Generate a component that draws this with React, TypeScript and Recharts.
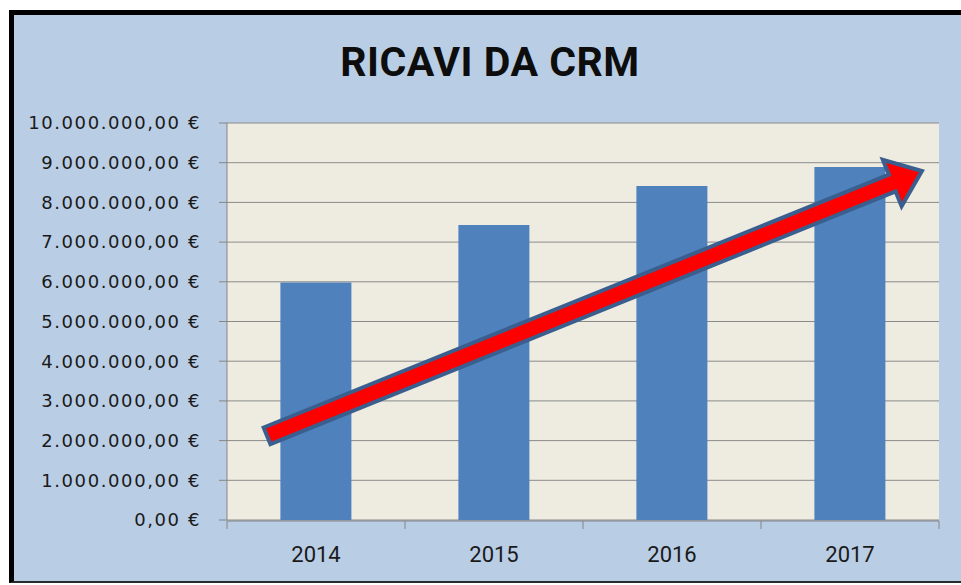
import React from 'react';
import { BarChart, Bar, XAxis, YAxis, CartesianGrid, ReferenceLine } from 'recharts';

const years = ['2014', '2015', '2016', '2017'];
const revenues = [5980000, 7430000, 8410000, 8890000];
const bandPos = [0.5, 1.5, 2.5, 3.5];
const yTicks = [0, 1000000, 2000000, 3000000, 4000000, 5000000, 6000000, 7000000, 8000000, 9000000, 10000000];
const bandTicks = [0, 1, 2, 3, 4];
const arrowStart = { x: 0.225, y: 2120000 };
const arrowEnd = { x: 3.904, y: 8790000 };
const title = 'RICAVI DA CRM';

const data = years.map((year, i) => ({ year, pos: bandPos[i], value: revenues[i] }));

const fmt = (v: number) =>
  Math.round(v).toString().replace(/\B(?=(\d{3})+(?!\d))/g, '.') + ',00 €';

const EmptyTick = () => <g />;

const ArrowShape = (props: any) => {
  const { x1, y1, x2, y2 } = props;
  if ([x1, y1, x2, y2].some((v) => typeof v !== 'number' || isNaN(v))) return <g />;
  const dx = x2 - x1;
  const dy = y2 - y1;
  const L = Math.sqrt(dx * dx + dy * dy);
  const ux = dx / L;
  const uy = dy / L;
  const nx = -uy;
  const ny = ux;
  const sw = 9;
  const hw = 25;
  const hl = 32;
  const bx = x2 - ux * hl;
  const by = y2 - uy * hl;
  const pts = [
    [x1 + nx * sw, y1 + ny * sw],
    [bx + nx * sw, by + ny * sw],
    [bx + nx * hw, by + ny * hw],
    [x2, y2],
    [bx - nx * hw, by - ny * hw],
    [bx - nx * sw, by - ny * sw],
    [x1 - nx * sw, y1 - ny * sw],
  ];
  return (
    <polygon
      points={pts.map((p) => `${p[0]},${p[1]}`).join(' ')}
      fill="#ff0000"
      stroke="#3a5f8f"
      strokeWidth={4}
      strokeLinejoin="miter"
    />
  );
};

export default function App() {
  return (
    <div style={{ position: 'absolute', left: 0, top: 0, width: 961, height: 585, background: '#ffffff', overflow: 'hidden' }}>
      <div
        style={{
          position: 'absolute',
          left: 9,
          top: 10,
          width: 960,
          height: 573,
          boxSizing: 'border-box',
          background: '#b9cde5',
          borderTop: '5px solid #000',
          borderLeft: '5px solid #000',
          borderBottom: '2px solid #2a2a2a',
        }}
      />
      <div
        style={{
          position: 'absolute',
          left: 290,
          width: 400,
          top: 42,
          textAlign: 'center',
          fontFamily: 'Roboto, sans-serif',
          fontWeight: 700,
          fontSize: 41,
          lineHeight: '41px',
          letterSpacing: 0.5,
          color: '#0d0d0d',
        }}
      >
        {title}
      </div>
      <div style={{ position: 'absolute', left: 0, top: 0 }}>
        <BarChart
          width={961}
          height={585}
          data={data}
          margin={{ top: 123, right: 22, bottom: 63, left: 0 }}
          barCategoryGap="30%"
        >
          <CartesianGrid horizontal vertical={false} stroke="#8a8a8a" fill="#eeece1" xAxisId="cat" />
          <XAxis
            xAxisId="num"
            dataKey="pos"
            type="number"
            domain={[0, 4]}
            ticks={bandTicks}
            height={1}
            axisLine={{ stroke: '#868686' }}
            tickLine={{ stroke: '#868686' }}
            tickSize={8}
            tick={EmptyTick}
            allowDataOverflow
          />
          <XAxis
            xAxisId="cat"
            dataKey="year"
            height={1}
            axisLine={false}
            tickLine={false}
            tickSize={0}
            tickMargin={26}
            tick={{ fontFamily: 'Roboto, sans-serif', fontSize: 22, fill: '#1a1a1a' }}
          />
          <YAxis
            width={227}
            domain={[0, 10000000]}
            ticks={yTicks}
            interval={0}
            tickFormatter={fmt}
            axisLine={{ stroke: '#868686' }}
            tickLine={{ stroke: '#868686' }}
            tickSize={8}
            tickMargin={18}
            tick={{ fontFamily: 'DejaVu Sans, sans-serif', fontSize: 18, fill: '#1a1a1a', letterSpacing: 1.6 }}
          />
          <Bar dataKey="value" xAxisId="cat" fill="#4f81bd" isAnimationActive={false} />
          <ReferenceLine
            xAxisId="num"
            segment={[arrowStart, arrowEnd]}
            shape={ArrowShape}
            ifOverflow="visible"
          />
        </BarChart>
      </div>
    </div>
  );
}
